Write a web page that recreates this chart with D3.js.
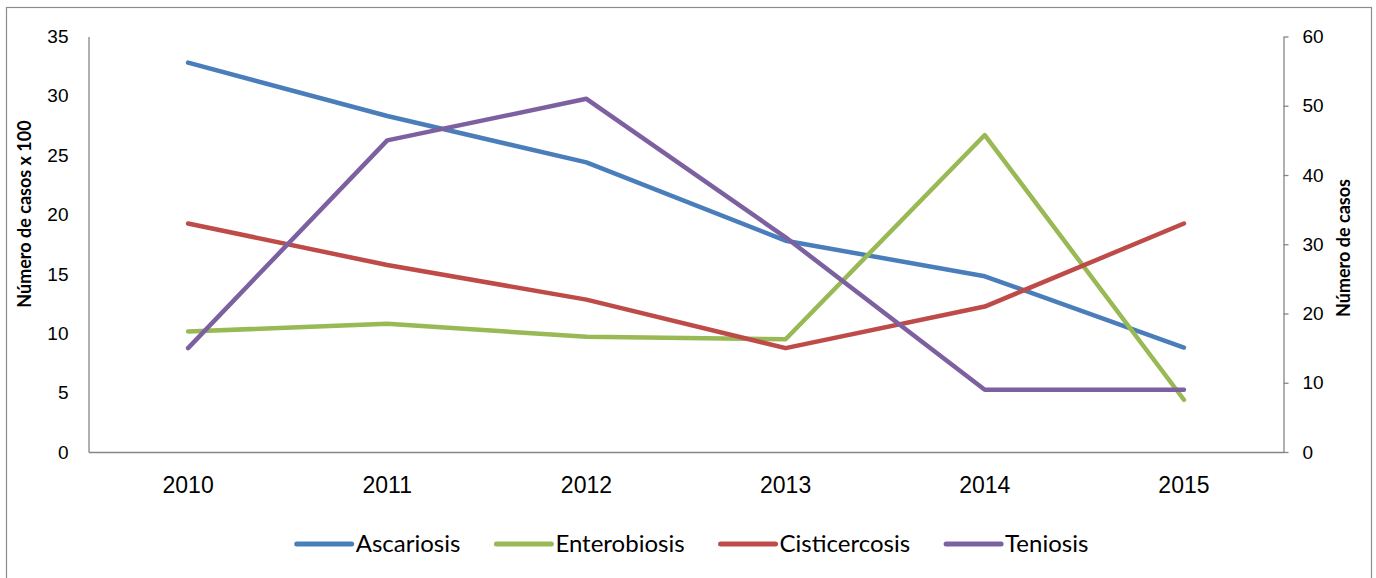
<!DOCTYPE html>
<meta charset="utf-8">
<style>
body {
  margin: 0;
  background: #fff;
  font-family: Lato, "Noto Sans", sans-serif;
}
.axis path, .axis line {
  stroke: #868686;
  stroke-width: 1.3;
}
.axis text {
  fill: #000;
}
.serie {
  fill: none;
  stroke-width: 4.5;
  stroke-linecap: round;
  stroke-linejoin: round;
}
</style>
<body>
<script src="https://cdn.jsdelivr.net/npm/d3@7"></script>
<script>

var width = 1376,
    height = 578;

// datos
var years = ["2010", "2011", "2012", "2013", "2014", "2015"];
var ascariosis = [32.8, 28.3, 24.4, 17.8, 14.8, 8.8];      // eje izq (x 100)
var enterobiosis = [10.15, 10.8, 9.7, 9.5, 26.7, 4.4];     // eje izq (x 100)
var cisticercosis = [33, 27, 22, 15, 21, 33];              // eje der
var teniosis = [15, 45, 51, 31, 9, 9];                     // eje der
var leftTicks = [0, 5, 10, 15, 20, 25, 30, 35];
var rightTicks = [0, 10, 20, 30, 40, 50, 60];

var series = [
  {name: "Ascariosis", values: ascariosis, axis: "left", color: "#4a7ebb"},
  {name: "Enterobiosis", values: enterobiosis, axis: "left", color: "#98b954"},
  {name: "Cisticercosis", values: cisticercosis, axis: "right", color: "#be4b48"},
  {name: "Teniosis", values: teniosis, axis: "right", color: "#7d60a0"}
];

var plot = {left: 88.5, right: 1283.5, top: 36.5, bottom: 452};

var svg = d3.select("body").append("svg")
    .attr("width", width)
    .attr("height", height);

svg.append("rect")
    .attr("x", 6.5)
    .attr("y", 7.5)
    .attr("width", 1365)
    .attr("height", 600)
    .style("fill", "#fff")
    .style("stroke", "#8c8c8c")
    .style("stroke-width", 1.2);

var x = d3.scaleBand()
    .domain(years)
    .range([plot.left, plot.right]);

var yLeft = d3.scaleLinear()
    .domain([0, 35])
    .range([plot.bottom, plot.top]);

var yRight = d3.scaleLinear()
    .domain([0, 60])
    .range([plot.bottom, plot.top]);

// ejes
var gLeft = svg.append("g")
    .attr("class", "axis")
    .attr("transform", "translate(" + plot.left + ",0)")
    .call(d3.axisLeft(yLeft).tickValues(leftTicks).tickSize(0).tickPadding(20));
gLeft.selectAll("text").style("font-size", "19px");

var gRight = svg.append("g")
    .attr("class", "axis")
    .attr("transform", "translate(" + plot.right + ",0)")
    .call(d3.axisRight(yRight).tickValues(rightTicks).tickSize(5).tickSizeOuter(0).tickPadding(14));
gRight.selectAll("text").style("font-size", "19px");

var gBottom = svg.append("g")
    .attr("class", "axis")
    .attr("transform", "translate(0," + plot.bottom + ")")
    .call(d3.axisBottom(x).tickSize(0).tickPadding(25));
gBottom.selectAll("text").style("font-size", "23px");

// titulos de ejes
svg.append("text")
    .attr("transform", "translate(31,214)rotate(-90)")
    .style("text-anchor", "middle")
    .style("font-weight", "bold")
    .style("font-size", "18px")
    .text("Número de casos x 100");

svg.append("text")
    .attr("transform", "translate(1350,248)rotate(-90)")
    .style("text-anchor", "middle")
    .style("font-weight", "bold")
    .style("font-size", "18px")
    .text("Número de casos");

// lineas
series.forEach(function(s) {
  var y = s.axis == "left" ? yLeft : yRight;
  var line = d3.line()
    .x(function(d, i) { return x(years[i]) + x.bandwidth() / 2; })
    .y(function(d) { return y(d); });
  svg.append("path")
    .datum(s.values)
    .attr("class", "serie")
    .attr("d", line)
    .style("stroke", s.color);
});

// leyenda
var legend = svg.append("g");
var lx = 0;
series.forEach(function(s) {
  var item = legend.append("g").attr("transform", "translate(" + lx + ",0)");
  item.append("line")
    .attr("x1", 0).attr("x2", 55)
    .attr("y1", 0).attr("y2", 0)
    .style("stroke", s.color)
    .style("stroke-width", 5)
    .style("stroke-linecap", "round");
  var t = item.append("text")
    .attr("x", 59)
    .attr("y", 8)
    .style("font-size", "24px")
    .text(s.name);
  lx += 59 + t.node().getComputedTextLength() + 36;
});
lx -= 36;
legend.attr("transform", "translate(" + (692.5 - lx / 2) + ",544)");

</script>
